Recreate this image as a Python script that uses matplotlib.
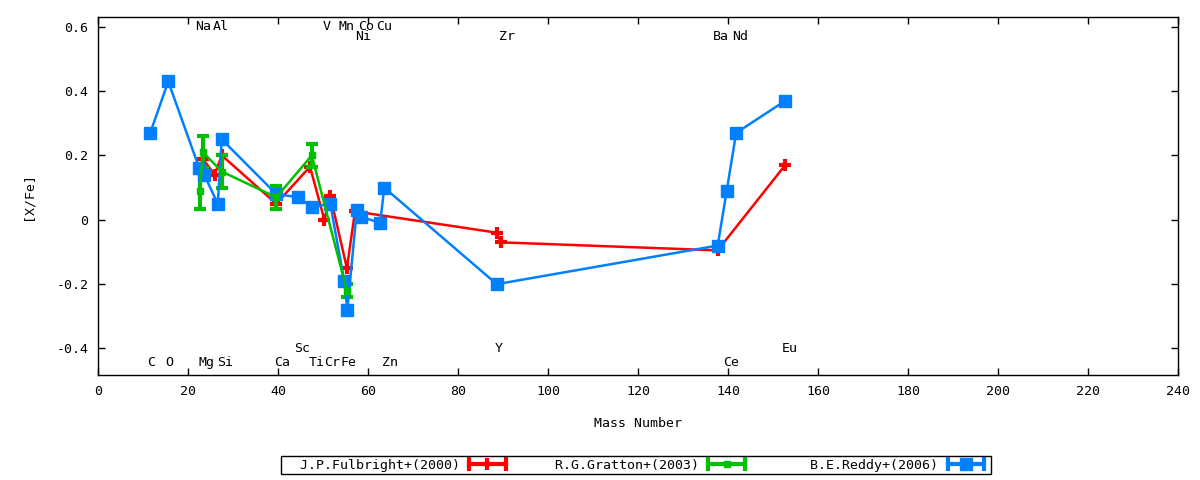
import numpy as np
import matplotlib.pyplot as plt
from matplotlib.lines import Line2D
from matplotlib.legend_handler import HandlerLine2D, HandlerTuple

plt.rcParams['font.family'] = ['DejaVu Sans Mono']
plt.rcParams['font.size'] = 9.5

# J.P.Fulbright+(2000)
ful_x = [23.3, 25.9, 27.5, 39.6, 47.1, 50.3, 51.6, 55.3, 57.1, 88.6, 89.5, 137.7, 152.7]
ful_y = [0.19, 0.14, 0.20, 0.05, 0.165, 0.0, 0.075, -0.15, 0.026, -0.04, -0.07, -0.095, 0.17]

# R.G.Gratton+(2003)
gra_x = [22.6, 23.3, 27.5, 39.6, 47.5, 55.3]
gra_y = [0.09, 0.21, 0.15, 0.07, 0.20, -0.22]
gra_err = [0.055, 0.05, 0.05, 0.035, 0.035, 0.02]

# B.E.Reddy+(2006)
red_x = [11.6, 15.6, 22.5, 23.6, 26.6, 27.5, 39.6, 44.5, 47.5, 51.6, 54.7, 55.4,
         57.5, 58.4, 62.7, 63.6, 88.6, 137.7, 139.7, 141.8, 152.7]
red_y = [0.27, 0.43, 0.16, 0.14, 0.05, 0.25, 0.08, 0.07, 0.04, 0.05, -0.19, -0.28,
         0.03, 0.01, -0.01, 0.10, -0.20, -0.08, 0.09, 0.27, 0.37]

# element labels (name, mass, label row)
el_names = ['Na', 'Al', 'V', 'Mn', 'Co', 'Cu', 'Ni', 'Zr', 'Ba', 'Nd',
            'C', 'O', 'Mg', 'Si', 'Ca', 'Ti', 'Cr', 'Fe', 'Zn', 'Ce',
            'Sc', 'Y', 'Eu']
el_mass = [23.4, 27.2, 50.7, 55.2, 59.5, 63.5, 58.9, 90.9, 138.5, 142.6,
           11.8, 15.8, 24.1, 28.3, 41.0, 48.5, 52.0, 55.6, 64.8, 140.6,
           45.4, 89.1, 153.8]
el_y = [0.6] * 6 + [0.57] * 4 + [-0.445] * 10 + [-0.40] * 3

labels = ['J.P.Fulbright+(2000)', 'R.G.Gratton+(2003)', 'B.E.Reddy+(2006)']

c_red, c_green, c_blue = '#ff0000', '#00c000', '#0080ff'

fig = plt.figure(figsize=(12, 4.8), dpi=100)
ax = fig.add_axes([0.0817, 0.219, 0.9, 0.746])

ax.plot(ful_x, ful_y, color=c_red, lw=1.8, marker='+', ms=9, mew=3)
ax.errorbar(gra_x, gra_y, yerr=gra_err, color=c_green, lw=1.8, marker='s', ms=5,
            elinewidth=3, capsize=4, capthick=3)
ax.plot(red_x, red_y, color=c_blue, lw=1.8, marker='s', ms=8.5)

for n, m, yy in zip(el_names, el_mass, el_y):
    ax.text(m, yy, n, ha='center', va='center', fontsize=9.5)

ax.set_xlim(0, 240)
ax.set_ylim(-0.482, 0.631)
ax.set_xticks(np.arange(0, 241, 20))
ax.set_yticks([-0.4, -0.2, 0, 0.2, 0.4, 0.6])
ax.set_yticklabels(['-0.4', '-0.2', '0', '0.2', '0.4', '0.6'])
ax.tick_params(direction='in', top=True, right=True, length=5, width=1, pad=7, labelsize=9.5)
for s in ax.spines.values():
    s.set_linewidth(1)

ax.set_xlabel('Mass Number', fontsize=9.5, labelpad=14)
ax.set_ylabel('[X/Fe]', fontsize=9.5, labelpad=16)


def make_handle(color, marker, ms, mew):
    caps = Line2D([], [], color=color, lw=3, marker='|', ms=10, mew=3)
    pt = Line2D([], [], color=color, lw=0, marker=marker, ms=ms, mew=mew)
    return (caps, pt), caps


h1, c1 = make_handle(c_red, '+', 9, 3)
h2, c2 = make_handle(c_green, 's', 5, 1)
h3, c3 = make_handle(c_blue, 's', 8.5, 1)
hmap = {c: HandlerLine2D(numpoints=2) for c in (c1, c2, c3)}
hmap[tuple] = HandlerTuple(ndivide=1)
leg = fig.legend([h1, h2, h3], [s.rjust(22) for s in labels],
                 handler_map=hmap, loc='center', bbox_to_anchor=(0.53, 0.031),
                 ncol=3, fancybox=False, edgecolor='black', framealpha=1,
                 fontsize=9.5, markerfirst=False, handlelength=3.4, columnspacing=1.0,
                 borderpad=0.2, borderaxespad=0, handletextpad=0.4)
leg.get_frame().set_linewidth(1)

fig.savefig('out.png', dpi=100)
